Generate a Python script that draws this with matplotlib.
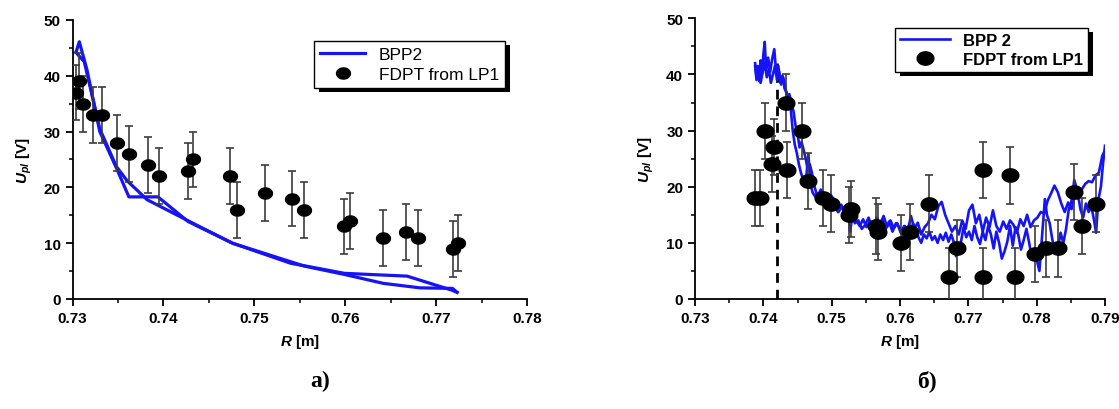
import numpy as np
import matplotlib
matplotlib.use("Agg")
import matplotlib.pyplot as plt
from matplotlib.path import Path
from matplotlib.patches import Rectangle
from matplotlib.ticker import MultipleLocator

plt.rcParams["font.family"] = ["Liberation Sans", "DejaVu Sans"]
plt.rcParams["mathtext.fontset"] = "custom"
plt.rcParams["mathtext.it"] = "Liberation Sans:italic:bold"
plt.rcParams["mathtext.rm"] = "Liberation Sans:bold"

BLUE = "#1414f5"
ERR = "#3c3c3c"

# ---- panel a): probe sweep (out and back) and FDPT points ----
bpp_a_R = [0.73038, 0.73075, 0.7316, 0.7330, 0.7348, 0.7362, 0.7394, 0.7427,
           0.7476, 0.7540, 0.7560, 0.7599, 0.7668, 0.7717, 0.7723]
bpp_a_U = [44.2, 46.1, 41.0, 30.0, 23.6, 18.3, 18.3, 13.9,
           10.0, 6.4, 5.8, 4.6, 4.1, 1.6, 1.2]
bpp_b_R = [0.7723, 0.7718, 0.7682, 0.7642, 0.7599, 0.7555, 0.7476, 0.7437,
           0.7382, 0.7360, 0.7348, 0.7330, 0.7313, 0.73038]
bpp_b_U = [1.2, 1.9, 2.0, 2.8, 4.4, 5.9, 10.0, 13.2,
           17.8, 21.2, 23.8, 30.5, 42.5, 44.2]

fdpt_a_R = [0.7304, 0.73075, 0.7311, 0.7323, 0.7332, 0.7349, 0.7362, 0.7383,
            0.7395, 0.7427, 0.7433, 0.7473, 0.7481, 0.7512, 0.7541, 0.7555,
            0.7599, 0.7605, 0.7641, 0.7667, 0.7680, 0.7718, 0.7724]
fdpt_a_U = [37, 39, 35, 33, 33, 28, 26, 24, 22, 23, 25, 22, 16, 19, 18, 16,
            13, 14, 11, 12, 11, 9, 10]
fdpt_a_err = 5

# ---- panel б): noisy probe sweep (out and back) and FDPT points ----
bpp_out_R = [0.7388, 0.7390, 0.7392, 0.7394, 0.7396, 0.7398, 0.7400, 0.7402,
             0.7404, 0.7407, 0.7410, 0.7413, 0.7416, 0.7419, 0.7422, 0.7425,
             0.7428, 0.7431, 0.7434, 0.7437, 0.7440, 0.7443, 0.7446, 0.7449,
             0.7452, 0.7455, 0.7459, 0.7463, 0.7466, 0.7469, 0.7472, 0.7476,
             0.7480, 0.7484, 0.7488, 0.7492, 0.7496, 0.7500, 0.7505, 0.7510,
             0.7515, 0.7520, 0.7524, 0.7527, 0.7531, 0.7536, 0.7541, 0.7546,
             0.7551, 0.7556, 0.7561, 0.7566, 0.7571, 0.7576, 0.7581, 0.7586,
             0.7591, 0.7596, 0.7601, 0.7606, 0.7611, 0.7616, 0.7621, 0.7626,
             0.7631, 0.7636, 0.7641, 0.7646, 0.7651, 0.7656, 0.7661, 0.7666,
             0.7671, 0.7676, 0.7681, 0.7686, 0.7691, 0.7696, 0.7701, 0.7706,
             0.7711, 0.7716, 0.7721, 0.7726, 0.7731, 0.7736, 0.7741, 0.7746,
             0.7751, 0.7756, 0.7761, 0.7766, 0.7771, 0.7776, 0.7781, 0.7786,
             0.7791, 0.7796, 0.7801, 0.7806, 0.7811, 0.7816, 0.7821, 0.7826,
             0.7831, 0.7836, 0.7841, 0.7846, 0.7851, 0.7856, 0.7861, 0.7866,
             0.7871, 0.7876, 0.7881, 0.7886, 0.7891, 0.7896, 0.7900]
bpp_out_U = [42.0, 39.5, 41.5, 38.8, 42.5, 40.0, 43.5, 45.8,
             41.0, 43.0, 40.5, 42.8, 44.5, 40.0, 41.5, 38.5,
             39.8, 37.5, 36.8, 35.2, 34.0, 30.0, 27.5, 26.0,
             24.0, 22.5, 21.0, 22.0, 25.8, 20.5, 19.0, 18.2,
             18.8, 17.5, 18.5, 16.5, 17.8, 16.0, 16.8, 15.5,
             16.5, 14.8, 15.8, 12.0, 15.5, 14.0, 13.0, 14.2,
             12.8, 13.8, 12.5, 14.5, 13.2, 14.8, 12.8, 14.0,
             12.6, 13.5, 11.8, 13.0, 12.0, 14.8, 12.5, 13.6,
             11.5, 12.8, 13.5, 15.0, 14.2, 16.5, 17.3, 15.0,
             13.5, 12.0, 13.0, 11.5, 14.0, 12.5, 15.8, 16.8,
             13.5, 15.0, 12.0, 14.5, 12.8, 15.8, 13.0, 12.0,
             13.8, 12.5, 14.0, 13.2, 11.8, 14.2, 13.0, 15.0,
             12.8, 14.0, 14.5, 15.5, 15.2, 17.5, 18.8, 20.2,
             19.0, 17.0, 15.5, 17.2, 16.0, 18.5, 17.8, 19.5,
             20.5, 21.0, 20.8, 22.0, 22.5, 25.5, 26.5]
bpp_back_R = [0.7900, 0.7897, 0.7894, 0.7890, 0.7887, 0.7884, 0.7880, 0.7876,
              0.7872, 0.7868, 0.7864, 0.7860, 0.7855, 0.7851, 0.7847, 0.7843,
              0.7839, 0.7835, 0.7831, 0.7827, 0.7823, 0.7819, 0.7815, 0.7812,
              0.7809, 0.7806, 0.7804, 0.7801, 0.7797, 0.7793, 0.7789, 0.7785,
              0.7781, 0.7777, 0.7773, 0.7769, 0.7765, 0.7761, 0.7757, 0.7753,
              0.7749, 0.7745, 0.7741, 0.7737, 0.7733, 0.7729, 0.7725, 0.7721,
              0.7717, 0.7713, 0.7709, 0.7705, 0.7701, 0.7697, 0.7693, 0.7689,
              0.7685, 0.7682, 0.7679, 0.7675, 0.7671, 0.7667, 0.7663, 0.7659,
              0.7655, 0.7651, 0.7647, 0.7643, 0.7639, 0.7635, 0.7631, 0.7627,
              0.7623, 0.7619, 0.7615, 0.7611, 0.7607, 0.7603, 0.7599, 0.7594,
              0.7589, 0.7584, 0.7579, 0.7574, 0.7569, 0.7564, 0.7559, 0.7554,
              0.7549, 0.7544, 0.7539, 0.7534, 0.7529, 0.7524, 0.7519, 0.7514,
              0.7509, 0.7504, 0.7499, 0.7494, 0.7489, 0.7484, 0.7479, 0.7475,
              0.7471, 0.7468, 0.7465, 0.7462, 0.7459, 0.7456, 0.7453, 0.7450,
              0.7447, 0.7444, 0.7441, 0.7438, 0.7435, 0.7432, 0.7429, 0.7426,
              0.7423, 0.7420, 0.7417, 0.7414, 0.7411, 0.7408, 0.7405, 0.7402,
              0.7399, 0.7396, 0.7393, 0.7390, 0.7388]
bpp_back_U = [27.3, 24.0, 20.0, 17.5, 11.8, 14.0, 16.5, 15.5,
              17.0, 14.5, 16.0, 19.0, 21.2, 17.5, 16.0, 12.5,
              10.0, 11.8, 9.0, 8.2, 10.5, 13.5, 15.0, 17.8,
              13.0, 8.0, 5.0, 6.5, 9.0, 7.2, 10.0, 12.5,
              10.5, 8.8, 11.5, 12.8, 9.5, 13.0, 10.2, 8.5,
              7.2, 10.0, 12.0, 9.0, 11.5, 13.0, 10.5, 12.0,
              9.8, 11.0, 13.0, 10.5, 12.0, 11.0, 12.8, 10.0,
              9.2, 7.6, 10.0, 11.5, 10.2, 11.8, 10.5, 11.5,
              10.0, 11.2, 10.5, 12.0, 10.8, 11.5, 10.0, 11.0,
              12.5, 13.5, 11.0, 12.2, 13.0, 11.5, 12.8, 13.5,
              12.0, 13.8, 12.5, 14.2, 13.0, 14.0, 12.8, 14.5,
              13.2, 12.5, 14.0, 13.5, 15.0, 16.0, 15.2, 16.8,
              15.5, 17.5, 18.5, 17.0, 18.0, 19.5, 18.2, 20.0,
              22.5, 24.0, 23.0, 25.0, 26.5, 28.0, 27.0, 29.5,
              31.0, 33.5, 35.0, 36.5, 35.5, 38.0, 39.5, 38.2,
              40.5, 39.0, 41.5, 40.0, 38.5, 41.0, 39.5, 42.0,
              40.5, 38.5, 41.0, 39.0, 41.5]

fdpt_b_R = [0.73872, 0.7395, 0.7403, 0.7415, 0.7412, 0.7433, 0.7434, 0.7456,
            0.7465, 0.7487, 0.7499, 0.7525, 0.7529, 0.7565, 0.7568, 0.7602,
            0.7615, 0.7643, 0.7671, 0.7683, 0.7722, 0.7722, 0.7761, 0.7769,
            0.7798, 0.7814, 0.7831, 0.7855, 0.7866, 0.7887]
fdpt_b_U = [18, 18, 30, 27, 24, 35, 23, 30, 21, 18, 17, 15, 16, 13, 12, 10,
            12, 17, 4, 9, 23, 4, 22, 4, 8, 9, 9, 19, 13, 17]
fdpt_b_err = 5

separatrix_R = 0.742
separatrix_top = 42

# elongated dot used for the FDPT points
_t = np.linspace(0, 2 * np.pi, 61)
ELLIPSE = Path(np.column_stack([1.25 * np.cos(_t), np.sin(_t)]), closed=True)


def style_axes(ax, xmax):
    for side in ("top", "right"):
        ax.spines[side].set_visible(False)
    for side in ("left", "bottom"):
        ax.spines[side].set_linewidth(1.3)
    ax.set_xlim(0.73, xmax)
    ax.set_ylim(0, 50)
    ax.xaxis.set_major_locator(MultipleLocator(0.01))
    ax.xaxis.set_minor_locator(MultipleLocator(0.005))
    ax.yaxis.set_major_locator(MultipleLocator(10))
    ax.yaxis.set_minor_locator(MultipleLocator(5))
    ax.tick_params(which="major", direction="out", length=5, width=1.3,
                   labelsize=11)
    ax.tick_params(which="minor", direction="out", length=3, width=1.1)
    ax.xaxis.set_major_formatter(plt.FuncFormatter(lambda v, p: f"{v:.2f}"))
    for lbl in ax.get_xticklabels() + ax.get_yticklabels():
        lbl.set_fontweight("bold")
    ax.set_xlabel(r"$R$ [m]", fontsize=11, fontweight="bold", labelpad=5)
    ax.set_ylabel(r"$U_{pl}$ [V]", fontsize=11, fontweight="bold", labelpad=7)


def add_shadow(fig, ax, leg, dx=5, dy=4):
    """Solid black drop shadow under a legend box (Origin look)"""
    fig.canvas.draw()
    bb = leg.get_window_extent().transformed(fig.transFigure.inverted())
    ox, oy = dx / fig.bbox.width, dy / fig.bbox.height
    ax.add_patch(Rectangle((bb.x0 + ox, bb.y0 - oy), bb.width, bb.height,
                           transform=fig.transFigure, facecolor="black",
                           edgecolor="none", zorder=4.9, clip_on=False))


fig = plt.figure(figsize=(11.19, 4.10), dpi=100)
ax1 = fig.add_axes([0.0648, 0.2683, 0.4062, 0.6805])
ax2 = fig.add_axes([0.6211, 0.2683, 0.3664, 0.6846])

# panel a)
ax1.plot(bpp_a_R, bpp_a_U, color=BLUE, lw=2.3, zorder=2, label="BPP2")
ax1.plot(bpp_b_R, bpp_b_U, color=BLUE, lw=2.3, zorder=2)
ax1.errorbar(fdpt_a_R, fdpt_a_U, yerr=fdpt_a_err, fmt="none", ecolor=ERR,
             elinewidth=1.2, capsize=3, capthick=1.2, zorder=3)
ax1.plot(fdpt_a_R, fdpt_a_U, ls="none", marker=ELLIPSE, ms=10, color="black",
         zorder=4, label="FDPT from LP1")
style_axes(ax1, 0.78)
leg1 = ax1.legend(loc="upper left", bbox_to_anchor=(0.531, 0.925),
                  borderaxespad=0, frameon=True, fancybox=False,
                  edgecolor="black", framealpha=1, fontsize=12.5,
                  handlelength=2.6, handletextpad=0.8, borderpad=0.35,
                  labelspacing=0.25)
leg1.get_frame().set_linewidth(1.0)

# panel б)
ax2.plot(bpp_out_R, bpp_out_U, color=BLUE, lw=1.9, zorder=2, label="BPP 2")
ax2.plot(bpp_back_R, bpp_back_U, color=BLUE, lw=1.9, zorder=2)
ax2.plot([separatrix_R, separatrix_R], [0, separatrix_top], color="black",
         lw=2.0, ls=(0, (3.5, 2.5)), zorder=1.5)
ax2.errorbar(fdpt_b_R, fdpt_b_U, yerr=fdpt_b_err, fmt="none", ecolor=ERR,
             elinewidth=1.2, capsize=3, capthick=1.2, zorder=3)
ax2.plot(fdpt_b_R, fdpt_b_U, ls="none", marker=ELLIPSE, ms=12, color="black",
         zorder=4, label="FDPT from LP1")
style_axes(ax2, 0.79)
leg2 = ax2.legend(loc="upper left", bbox_to_anchor=(0.488, 0.966),
                  borderaxespad=0, frameon=True, fancybox=False,
                  edgecolor="black", framealpha=1,
                  prop={"weight": "bold", "size": 12},
                  handlelength=3.0, handletextpad=0.8, borderpad=0.3,
                  labelspacing=0.25)
leg2.get_frame().set_linewidth(1.0)

fig.text(0.286, 0.045, "a)", family="Liberation Serif", fontweight="bold",
         fontsize=17, ha="center", va="bottom")
fig.text(0.828, 0.045, "б)", family="Liberation Serif", fontweight="bold",
         fontsize=17, ha="center", va="bottom")

add_shadow(fig, ax1, leg1)
add_shadow(fig, ax2, leg2)

fig.savefig("out.png", dpi=100)
